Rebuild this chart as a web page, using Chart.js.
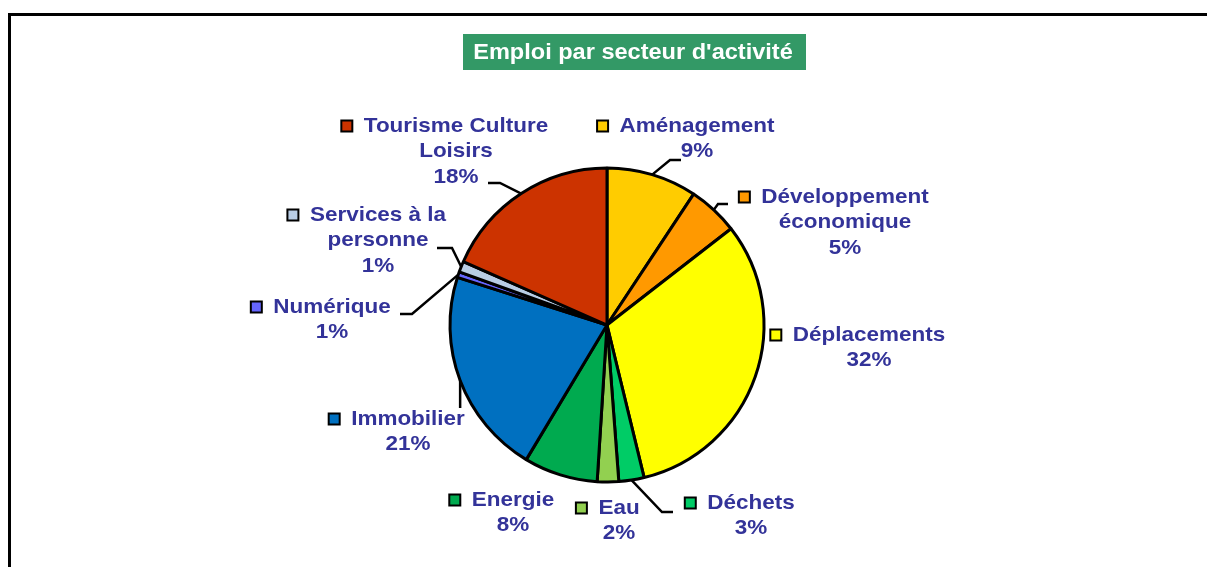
<!DOCTYPE html>
<html><head><meta charset="utf-8">
<script src="https://cdn.jsdelivr.net/npm/chart.js@4/dist/chart.umd.min.js"></script>
<style>html,body{margin:0;padding:0;background:#fff;}#wrap{width:1207px;height:567px;position:relative;}</style>
</head><body><div id="wrap"><canvas id="c" width="1207" height="567"></canvas></div>
<script>
const categories = ['Aménagement', ['Développement','économique'], 'Déplacements', 'Déchets', 'Eau', 'Energie', 'Immobilier', 'Numérique', ['Services à la','personne'], ['Tourisme Culture','Loisirs']];
const values = [9.3, 5.2, 31.7, 2.6, 2.2, 7.6, 21.3, 0.6, 1.1, 18.4];
const colors = ['#FFCC00','#FF9900','#FFFF00','#00CC66','#92D050','#00AA4F','#0070C0','#6666FF','#B9CDE5','#CC3300'];
const titleText = "Emploi par secteur d'activité";

// label layout: text center x, first line center y, leader path (points after anchor)
const labelLayout = [
  {cx:697, y:126, lead:[[670,160],[681,160]]},
  {cx:845, y:197, lead:[[718,204],[728,204]]},
  {cx:869, y:335, lead:null},
  {cx:751, y:503, lead:[[662,512],[673,512]]},
  {cx:619, y:508, lead:null},
  {cx:513, y:500, lead:null},
  {cx:408, y:419, lead:'vert', vEnd:408},
  {cx:332, y:307, lead:[[412,314],[400,314]]},
  {cx:378, y:215, lead:[[452,248],[437,248]]},
  {cx:456, y:126, lead:[[500,183],[488,183]]}
];

const SX = 1.07;
function stretchText(ctx, t, cx, cy){
  ctx.save(); ctx.translate(cx, cy); ctx.scale(SX,1); ctx.fillText(t,0,0); ctx.restore();
}

const decor = {
  id:'decor',
  beforeDraw(chart){
    const ctx = chart.ctx;
    ctx.save();
    ctx.fillStyle='#fff'; ctx.fillRect(0,0,chart.width,chart.height);
    ctx.strokeStyle='#000'; ctx.lineWidth=3;
    ctx.beginPath(); ctx.moveTo(9.5,chart.height+5); ctx.lineTo(9.5,14.5); ctx.lineTo(chart.width+5,14.5); ctx.stroke();
    ctx.fillStyle='#339966'; ctx.fillRect(463,34,343,36);
    ctx.fillStyle='#fff'; ctx.font='bold 22px "Liberation Sans", Arial, sans-serif';
    ctx.textAlign='center'; ctx.textBaseline='middle';
    stretchText(ctx, titleText, 633, 53);
    ctx.restore();
  },
  afterDraw(chart){
    const ctx = chart.ctx;
    const meta = chart.getDatasetMeta(0);
    const total = values.reduce((a,b)=>a+b,0);
    ctx.save();
    ctx.font='bold 21px "Liberation Sans", Arial, sans-serif';
    ctx.textBaseline='middle';
    meta.data.forEach((arc,i)=>{
      const L = labelLayout[i];
      const mid = (arc.startAngle+arc.endAngle)/2;
      const ax = arc.x + Math.cos(mid)*arc.outerRadius;
      const ay = arc.y + Math.sin(mid)*arc.outerRadius;
      ctx.strokeStyle='#000'; ctx.lineWidth=2.5;
      if (L.lead==='vert'){
        ctx.beginPath(); ctx.moveTo(ax,ay); ctx.lineTo(ax,L.vEnd); ctx.stroke();
      } else if (L.lead){
        ctx.beginPath(); ctx.moveTo(ax,ay); L.lead.forEach(p=>ctx.lineTo(p[0],p[1])); ctx.stroke();
      }
      const name = categories[i];
      const lines = (Array.isArray(name)?name.slice():[name]);
      lines.push(Math.round(values[i]/total*100)+'%');
      ctx.fillStyle='#333399'; ctx.textAlign='center';
      lines.forEach((t,k)=>stretchText(ctx, t, L.cx, L.y + k*25.5));
      const w = ctx.measureText(lines[0]).width*SX;
      const kx = L.cx - w/2 - 17;
      ctx.fillStyle=colors[i];
      ctx.fillRect(kx-5.5, L.y-5.5, 11, 11);
      ctx.lineWidth=2; ctx.strokeStyle='#000';
      ctx.strokeRect(kx-5.5, L.y-5.5, 11, 11);
    });
    ctx.restore();
  }
};

new Chart(document.getElementById('c'), {
  type:'pie',
  data:{ labels: categories, datasets:[{ data: values, backgroundColor: colors, borderColor:'#000', borderWidth:3, borderAlign:'center' }] },
  options:{
    responsive:false, animation:false, radius:157,
    layout:{padding:{left:100,right:93,top:100,bottom:17}},
    plugins:{ legend:{display:false}, title:{display:false}, tooltip:{enabled:false} }
  },
  plugins:[decor]
});
</script></body></html>
